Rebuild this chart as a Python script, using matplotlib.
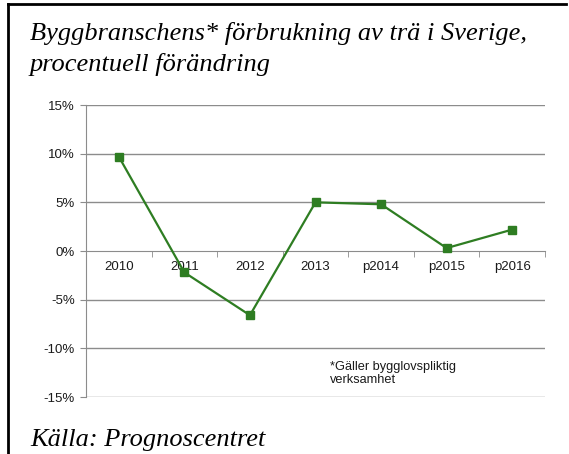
import numpy as np
import matplotlib
matplotlib.use('Agg')
import matplotlib.pyplot as plt
from matplotlib.lines import Line2D
from matplotlib.ticker import FixedLocator, FuncFormatter

categories = ['2010', '2011', '2012', '2013', 'p2014', 'p2015', 'p2016']
change_pct = [9.7, -2.2, -6.6, 5.0, 4.8, 0.3, 2.2]
y_ticks = [-15, -10, -5, 0, 5, 10, 15]

title_lines = ['Byggbranschens* förbrukning av trä i Sverige,', 'procentuell förändring']
source = 'Källa: Prognoscentret'
footnote = '*Gäller bygglovspliktig\nverksamhet'

green = '#2e7d22'
grid_gray = '#8c8c8c'
W, H = 569, 454

fig = plt.figure(figsize=(W / 100, H / 100), dpi=100)
ax = fig.add_axes([86 / W, 1 - 397 / H, 459 / W, 292 / H])

x = np.arange(len(categories))
ax.plot(x, change_pct, color=green, linewidth=1.6, marker='s', markersize=6,
        markerfacecolor=green, markeredgecolor=green, zorder=3)

ax.set_xlim(-0.5, len(categories) - 0.5)
ax.set_ylim(y_ticks[0], y_ticks[-1])

# y axis
ax.set_yticks(y_ticks)
ax.yaxis.set_major_formatter(FuncFormatter(lambda v, p: '%d%%' % v))
for v in y_ticks:
    if v != 0:
        ax.axhline(v, color=grid_gray, linewidth=1.0, zorder=1)

# x axis through zero, ticks at category boundaries
ax.spines['bottom'].set_position(('data', 0))
ax.spines['bottom'].set_color(grid_gray)
ax.spines['left'].set_color(grid_gray)
ax.spines['top'].set_visible(False)
ax.spines['right'].set_visible(False)
ax.set_xticks(x)
ax.set_xticklabels(categories)
ax.xaxis.set_minor_locator(FixedLocator(np.arange(len(categories) + 1) - 0.5))
ax.tick_params(axis='x', which='major', length=0, pad=7)
ax.tick_params(axis='x', which='minor', length=4, color=grid_gray, direction='out')
ax.tick_params(axis='y', length=4, color=grid_gray, pad=4)
for lbl in ax.get_xticklabels() + ax.get_yticklabels():
    lbl.set_fontfamily('Liberation Sans')
    lbl.set_fontsize(9.5)
    lbl.set_color('#1a1a1a')

ax.text(3.22, -12.6, footnote, fontfamily='Liberation Sans', fontsize=9.2,
        color='#1a1a1a', va='center', ha='left', linespacing=1.05)

# title and source
fig.text(30 / W, 1 - 40 / H, title_lines[0], fontfamily='Liberation Serif', style='italic',
         fontsize=19, va='baseline', ha='left')
fig.text(30 / W, 1 - 71 / H, title_lines[1], fontfamily='Liberation Serif', style='italic',
         fontsize=19, va='baseline', ha='left')
fig.text(30 / W, 1 - 446 / H, source, fontfamily='Liberation Serif', style='italic',
         fontsize=19, va='baseline', ha='left')

# frame (top and left edge)
fig.add_artist(Line2D([8 / W, 566 / W], [1 - 4 / H, 1 - 4 / H],
                      transform=fig.transFigure, color='black', linewidth=2))
fig.add_artist(Line2D([8 / W, 8 / W], [1 - 4 / H, 0],
                      transform=fig.transFigure, color='black', linewidth=2))

fig.savefig('out.png', dpi=100)
